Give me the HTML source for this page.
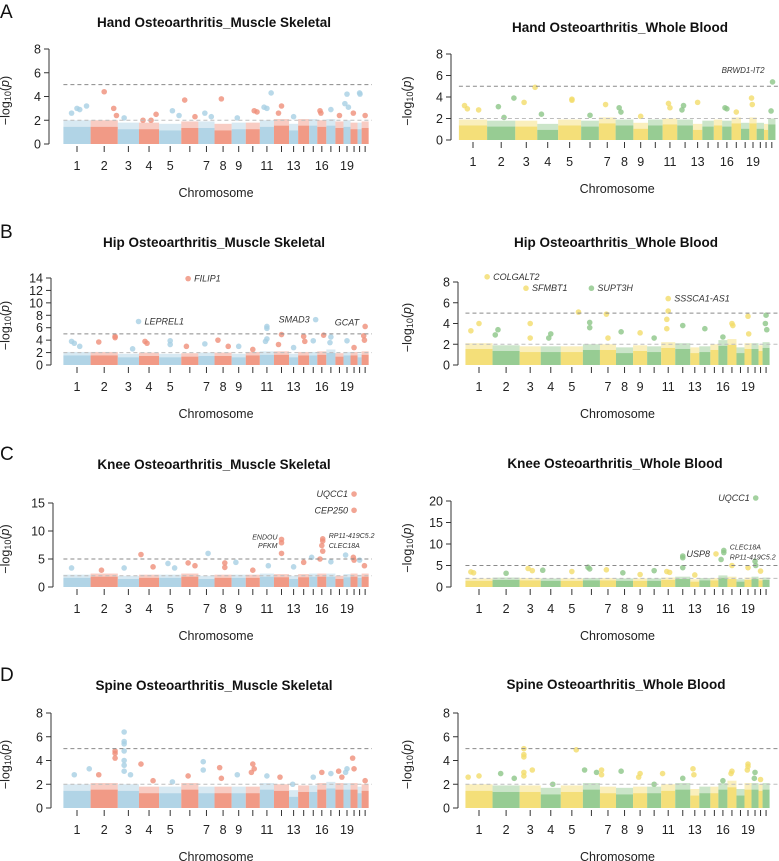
<!DOCTYPE html>
<html><head><meta charset="utf-8"><style>
html,body{margin:0;padding:0;background:#fff;}
svg{display:block;font-family:"Liberation Sans",Arial,sans-serif;}
</style></head><body>
<svg id="fig" width="779" height="861" viewBox="0 0 779 861" xmlns="http://www.w3.org/2000/svg"></svg>
<script>
// relative chromosome sizes (chr1..chr22)
const chrSizes = [27,27,21,20,22,17,16,17,14,14,14,15,9,11,8,9,9,8,7,7,4,7];
const chrLabels = ["1","2","3","4","5","","7","8","9","","11","","13","","","16","","","19","","",""];

// background band heights per chromosome (-log10 p)
const bandA_L = [1.8,1.8,1.6,1.6,1.5,1.7,1.7,1.5,1.6,1.6,1.8,1.9,1.5,1.9,1.9,1.8,1.9,1.7,1.8,1.6,1.6,1.7];
const bandA_R = [1.7,1.6,1.6,1.3,1.7,1.6,1.9,1.7,1.4,1.7,1.8,1.7,1.3,1.6,1.7,1.6,1.9,1.4,1.9,1.4,1.3,1.8];
const bandB_L = [1.9,1.9,1.6,1.8,1.6,1.7,1.8,1.8,1.6,1.9,2.0,2.0,1.6,1.9,1.9,2.0,2.3,1.7,1.9,1.9,1.6,2.0];
const bandB_R = [1.9,1.7,1.6,1.6,1.6,1.8,1.8,1.5,1.7,1.6,2.0,1.9,1.5,1.6,1.8,2.2,2.3,1.5,1.9,1.9,1.7,2.0];
const bandC_L = [2.0,2.2,1.8,2.0,2.0,2.2,1.8,2.0,2.0,2.0,2.2,2.1,1.8,2.1,2.2,2.2,2.2,1.8,2.1,2.2,2.0,2.2];
const bandC_R = [1.8,2.0,1.9,1.8,1.8,1.9,1.9,1.8,1.8,1.8,2.0,2.2,1.6,1.9,1.9,2.5,2.2,1.6,2.0,2.2,1.9,2.0];
const bandD_L = [1.8,1.9,1.8,1.6,1.6,1.9,1.6,1.6,1.6,1.6,1.9,1.8,1.3,1.7,1.7,1.9,2.0,1.9,1.9,1.9,1.6,1.8];
const bandD_R = [1.8,1.7,1.7,1.5,1.7,1.9,1.6,1.5,1.6,1.6,1.8,1.9,1.4,1.6,1.6,1.9,2.1,1.4,1.9,1.9,1.8,1.9];

// notable points: [chromosome, position within chromosome (0-1), -log10 p]
const ptsA_L = [[1,0.3,2.6],[1,0.5,3.0],[1,0.6,2.9],[1,0.85,3.2],[2,0.5,4.4],[2,0.85,3.0],[2,0.95,2.4],[3,0.3,2.2],[4,0.2,2.0],[4,0.6,2.0],[4,0.85,2.5],[5,0.6,2.8],[5,0.9,2.4],[6,0.2,3.7],[6,0.8,2.3],[7,0.4,2.6],[7,0.8,2.3],[8,0.4,3.8],[9,0.4,2.2],[10,0.6,2.8],[10,0.8,2.7],[11,0.3,3.1],[11,0.5,3.0],[11,0.8,4.3],[12,0.5,3.2],[12,0.3,2.6],[13,0.5,2.3],[16,0.3,2.8],[16,0.4,2.6],[17,0.5,2.9],[18,0.5,2.4],[19,0.2,3.4],[19,0.5,4.2],[19,0.7,3.1],[20,0.4,2.6],[21,0.5,4.3],[21,0.6,4.2],[22,0.5,2.4]];
const ptsA_R = [[1,0.2,3.2],[1,0.3,2.9],[1,0.7,2.8],[2,0.4,3.1],[2,0.6,2.1],[2,0.95,3.9],[3,0.4,3.5],[3,0.9,4.9],[4,0.2,2.4],[5,0.6,3.8],[5,0.6,3.7],[6,0.5,2.3],[7,0.4,3.3],[8,0.2,3.0],[8,0.3,2.6],[9,0.5,2.2],[11,0.4,3.4],[11,0.5,3.0],[12,0.4,3.2],[12,0.3,2.8],[13,0.5,3.5],[16,0.3,3.0],[16,0.5,2.9],[17,0.5,2.6],[19,0.3,3.9],[19,0.4,3.3],[22,0.6,5.4],[22,0.4,2.7]];
const ptsB_L = [[1,0.3,3.8],[1,0.4,3.5],[1,0.6,3.0],[2,0.3,3.7],[2,0.9,4.6],[2,0.9,4.4],[3,0.7,2.6],[3,0.98,7.0],[4,0.3,3.8],[4,0.4,3.5],[5,0.5,3.9],[5,0.5,3.3],[6,0.4,13.9],[6,0.3,3.0],[7,0.4,3.4],[8,0.2,4.0],[8,0.8,3.0],[9,0.5,3.0],[10,0.5,2.5],[11,0.5,6.2],[11,0.5,5.9],[11,0.5,4.2],[11,0.4,3.8],[12,0.5,4.9],[12,0.3,3.3],[13,0.5,2.8],[14,0.5,4.6],[14,0.6,3.8],[15,0.8,7.3],[15,0.5,3.9],[16,0.7,4.8],[17,0.5,4.5],[17,0.4,3.6],[19,0.5,3.9],[20,0.5,2.8],[22,0.5,6.2],[22,0.3,4.7],[22,0.4,4.0]];
const ptsB_R = [[1,0.8,8.5],[1,0.5,4.0],[1,0.2,3.3],[2,0.2,3.4],[2,0.1,2.9],[3,0.3,7.4],[3,0.5,4.0],[3,0.5,2.6],[4,0.5,3.0],[4,0.4,2.6],[5,0.8,5.1],[6,0.5,7.4],[6,0.4,4.1],[6,0.4,3.6],[7,0.4,4.9],[7,0.5,2.6],[8,0.3,3.2],[9,0.5,3.1],[10,0.5,2.6],[11,0.5,6.4],[11,0.5,5.2],[11,0.4,4.4],[11,0.4,3.5],[12,0.5,3.8],[14,0.5,3.5],[16,0.5,2.7],[17,0.5,4.0],[17,0.6,3.8],[19,0.5,4.7],[19,0.6,3.0],[22,0.5,4.8],[22,0.4,4.0],[22,0.6,3.4]];
const ptsC_L = [[1,0.3,3.4],[2,0.4,3.0],[3,0.3,3.4],[4,0.1,5.8],[4,0.7,3.6],[5,0.4,4.2],[5,0.7,3.4],[6,0.4,4.3],[6,0.8,3.8],[7,0.6,6.0],[8,0.6,4.3],[8,0.6,3.5],[9,0.3,4.4],[10,0.5,3.0],[11,0.6,3.8],[12,0.5,8.5],[12,0.5,7.9],[12,0.5,6.0],[13,0.5,3.6],[14,0.5,4.4],[15,0.3,5.3],[16,0.6,8.6],[16,0.6,8.2],[16,0.5,7.4],[16,0.6,6.4],[16,0.3,5.0],[17,0.5,4.5],[19,0.3,5.7],[20,0.5,16.6],[20,0.5,13.7],[20,0.4,5.3],[20,0.5,4.8],[21,0.5,4.8],[22,0.4,3.8]];
const ptsC_R = [[1,0.2,3.5],[1,0.3,3.3],[2,0.5,3.2],[3,0.4,4.3],[3,0.6,3.8],[4,0.1,3.9],[5,0.5,3.6],[6,0.3,4.6],[6,0.4,4.2],[7,0.4,4.0],[8,0.4,3.3],[9,0.5,2.9],[10,0.5,3.8],[11,0.4,3.6],[11,0.6,3.4],[12,0.5,7.2],[12,0.5,6.8],[12,0.5,4.5],[13,0.5,2.8],[15,0.7,7.7],[16,0.6,8.5],[16,0.6,8.0],[16,0.3,6.4],[17,0.5,5.0],[19,0.5,4.5],[20,0.6,20.7],[20,0.5,6.0],[20,0.6,5.0],[21,0.5,3.7]];
const ptsD_L = [[1,0.4,2.8],[1,0.95,3.3],[2,0.3,2.8],[2,0.9,4.8],[2,0.9,4.6],[2,0.9,4.2],[3,0.3,6.4],[3,0.3,5.6],[3,0.3,5.4],[3,0.3,4.8],[3,0.3,4.0],[3,0.3,3.6],[3,0.3,3.1],[3,0.6,2.8],[4,0.1,3.7],[4,0.7,2.3],[5,0.6,2.2],[6,0.4,2.7],[7,0.3,3.9],[7,0.3,3.2],[8,0.3,3.4],[8,0.4,2.5],[9,0.4,2.8],[10,0.5,3.7],[10,0.6,3.3],[10,0.4,3.0],[11,0.5,2.7],[12,0.4,2.6],[13,0.4,2.0],[15,0.5,2.6],[16,0.5,3.0],[17,0.5,2.9],[18,0.4,3.1],[18,0.8,2.6],[19,0.5,3.3],[19,0.3,3.0],[20,0.3,4.2],[20,0.5,3.3],[22,0.5,2.3]];
const ptsD_R = [[1,0.1,2.6],[1,0.5,2.7],[2,0.3,2.9],[2,0.8,2.5],[3,0.2,5.0],[3,0.2,4.5],[3,0.2,4.3],[3,0.2,3.0],[3,0.2,2.7],[3,0.6,3.2],[4,0.6,2.0],[5,0.7,4.9],[6,0.1,3.2],[6,0.8,3.0],[7,0.1,3.2],[7,0.1,2.8],[8,0.3,3.1],[9,0.5,2.9],[9,0.4,2.6],[10,0.5,2.0],[11,0.1,2.9],[12,0.5,2.5],[13,0.3,3.3],[13,0.4,2.8],[16,0.5,2.3],[17,0.5,3.1],[17,0.4,2.9],[19,0.5,3.7],[19,0.5,3.5],[19,0.4,3.2],[20,0.5,3.0],[20,0.4,2.5],[21,0.5,2.4]];

// annotations: [gene, chromosome, pos, value, dx, dy, anchor, fontsize]
const annB_L = [["FILIP1",6,0.4,13.9,6,3,"start",9],["LEPREL1",3,0.98,7.0,6,3,"start",9],["SMAD3",15,0.8,7.3,-6,3,"end",9],["GCAT",22,0.5,6.2,-6,-1,"end",9]];
const annA_R = [["BRWD1-IT2",22,0.6,5.4,-8,-9,"end",8]];
const annB_R = [["COLGALT2",1,0.8,8.5,6,3,"start",9],["SFMBT1",3,0.3,7.4,6,3,"start",9],["SUPT3H",6,0.5,7.4,6,3,"start",9],["SSSCA1-AS1",11,0.5,6.4,6,3,"start",9]];
const annC_L = [["UQCC1",20,0.5,16.6,-6,3,"end",9],["CEP250",20,0.5,13.7,-6,3,"end",9],["ENDOU",12,0.5,8.5,-4,0,"end",7],["PFKM",12,0.5,7.9,-4,5,"end",7],["RP11-419C5.2",16,0.6,8.6,6,-1,"start",7],["CLEC18A",16,0.6,8.2,6,7,"start",7]];
const annC_R = [["UQCC1",20,0.6,20.7,-6,3,"end",9],["USP8",15,0.7,7.7,-6,3,"end",9],["CLEC18A",16,0.6,8.5,6,-1,"start",7],["RP11-419C5.2",16,0.6,8.0,6,7,"start",7]];
const annEmpty = [];

const MS = ["#a8cfe3","#ef8f79"];
const WB = ["#f3dc6a","#8cc687"];
const panels = [
 {id:"hand-muscle",title:"Hand Osteoarthritis_Muscle Skeletal",tx:214,ty:27,ax:49,x1:77,x19:347,y0:144,yt:49,ymax:8,step:2,c:MS,band:bandA_L,pts:ptsA_L,ann:annEmpty,letter:"A",ly:18,ytx:6,dashEnd:372},
 {id:"hand-blood",title:"Hand Osteoarthritis_Whole Blood",tx:620,ty:32,ax:451,x1:473,x19:753,y0:140,yt:54,ymax:8,step:2,c:WB,band:bandA_R,pts:ptsA_R,ann:annA_R,ytx:408,dashEnd:778},
 {id:"hip-muscle",title:"Hip Osteoarthritis_Muscle Skeletal",tx:214,ty:247,ax:51,x1:77,x19:347,y0:365,yt:278,ymax:14,step:2,c:MS,band:bandB_L,pts:ptsB_L,ann:annB_L,letter:"B",ly:238,ytx:6,dashEnd:372},
 {id:"hip-blood",title:"Hip Osteoarthritis_Whole Blood",tx:616,ty:247,ax:458,x1:479,x19:748,y0:365,yt:282,ymax:8,step:2,c:WB,band:bandB_R,pts:ptsB_R,ann:annB_R,ytx:408,dashEnd:778},
 {id:"knee-muscle",title:"Knee Osteoarthritis_Muscle Skeletal",tx:214,ty:469,ax:53,x1:77,x19:347,y0:587,yt:503,ymax:15,step:5,c:MS,band:bandC_L,pts:ptsC_L,ann:annC_L,letter:"C",ly:460,ytx:6,dashEnd:372},
 {id:"knee-blood",title:"Knee Osteoarthritis_Whole Blood",tx:615,ty:468,ax:451,x1:479,x19:748,y0:587,yt:501,ymax:20,step:5,c:WB,band:bandC_R,pts:ptsC_R,ann:annC_R,ytx:408,dashEnd:778},
 {id:"spine-muscle",title:"Spine Osteoarthritis_Muscle Skeletal",tx:214,ty:690,ax:51,x1:77,x19:347,y0:808,yt:713,ymax:8,step:2,c:MS,band:bandD_L,pts:ptsD_L,ann:annEmpty,letter:"D",ly:681,ytx:6,dashEnd:372},
 {id:"spine-blood",title:"Spine Osteoarthritis_Whole Blood",tx:616,ty:689,ax:458,x1:479,x19:748,y0:808,yt:713,ymax:8,step:2,c:WB,band:bandD_R,pts:ptsD_R,ann:annEmpty,ytx:408,dashEnd:778}
];

const NS="http://www.w3.org/2000/svg";
const svg=document.getElementById("fig");
function mk(tag,attrs,parent){const e=document.createElementNS(NS,tag);for(const k in attrs)e.setAttribute(k,attrs[k]);(parent||svg).appendChild(e);return e;}

const starts=[];let acc=0;for(const s of chrSizes){starts.push(acc);acc+=s;}
const centers=chrSizes.map((s,i)=>starts[i]+s/2);

panels.forEach(p=>{
  const g=mk("g",{});
  
  
  const unit=(p.x19-p.x1)/(centers[18]-centers[0]);
  const xs=v=>p.x1+(v-centers[0])*unit;
  const ys=v=>p.y0-v*(p.y0-p.yt)/p.ymax;
  const xChr=(c,f)=>xs(starts[c-1]+chrSizes[c-1]*f);

  if(p.letter){const t=mk("text",{x:0,y:p.ly,"font-size":19,fill:"#111"},g);t.textContent=p.letter;
    
    }
  const tt=mk("text",{x:p.tx,y:p.ty,"font-size":13.5,"font-weight":"bold","text-anchor":"middle",fill:"#111"},g);
  tt.textContent=p.title;
  
  

  chrSizes.forEach((s,i)=>{
    const x0=xs(starts[i]),x1=xs(starts[i]+s);
    const core=p.band[i]-0.35, top=p.band[i]+0.2;
    const f=mk("rect",{x:x0,y:ys(top),width:x1-x0,height:ys(core)-ys(top),fill:p.c[i%2],"fill-opacity":0.45},g);
    
    
    const r=mk("rect",{x:x0,y:ys(core),width:x1-x0,height:p.y0-ys(core),fill:p.c[i%2],"fill-opacity":0.9},g);
    
    
  });
  p.pts.forEach(d=>{
    const c=mk("circle",{cx:xChr(d[0],d[1]),cy:ys(d[2]),r:2.8,fill:p.c[(d[0]-1)%2],"fill-opacity":0.8},g);
    
    
  });
  const xa=xs(0);
  [[5,"#8a8a8a"],[2,"#bdbdbd"]].forEach(([v,col])=>{
    const l=mk("line",{x1:xa,x2:p.dashEnd,y1:ys(v),y2:ys(v),stroke:col,"stroke-width":1,"stroke-dasharray":"4,3"},g);
    
    
  });
  const ya=mk("line",{x1:p.ax,x2:p.ax,y1:p.y0,y2:p.yt,stroke:"#333"},g);
  
  
  for(let v=0;v<=p.ymax;v+=p.step){
    const y=ys(v);
    mk("line",{x1:p.ax-5,x2:p.ax,y1:y,y2:y,stroke:"#333"},g);
    const t=mk("text",{x:p.ax-8,y:y+4.5,"font-size":12.5,"text-anchor":"end",fill:"#222"},g);
    t.textContent=v;
    
    
  }
  const yc=(p.y0+p.yt)/2+4;
  const yt=mk("text",{x:p.ytx,y:yc,"font-size":12.5,"text-anchor":"middle",fill:"#222",transform:`rotate(-90 ${p.ytx} ${yc})`,"dominant-baseline":"middle"},g);
  yt.innerHTML='\u2212log<tspan font-size="9" dy="3">10</tspan><tspan dy="-3">(</tspan><tspan font-style="italic">p</tspan>)';
  
  
  centers.forEach((c,i)=>{
    const x=xs(c);
    mk("line",{x1:x,x2:x,y1:p.y0+2,y2:p.y0+8,stroke:"#333"},g);
    if(chrLabels[i]){const t=mk("text",{x:x,y:p.y0+26,"font-size":12.5,"text-anchor":"middle",fill:"#222"},g);t.textContent=chrLabels[i];
      
      }
  });
  const xt=mk("text",{x:(xs(0)+xs(acc))/2,y:p.y0+53,"font-size":12.5,"text-anchor":"middle",fill:"#222"},g);
  xt.textContent="Chromosome";
  
  
  p.ann.forEach(a=>{
    const t=mk("text",{x:xChr(a[1],a[2])+a[4],y:ys(a[3])+a[5],"font-size":a[7],"font-style":"italic","text-anchor":a[6],fill:"#333"},g);
    t.textContent=a[0];
    
    
  });
});
</script>
</body></html>
